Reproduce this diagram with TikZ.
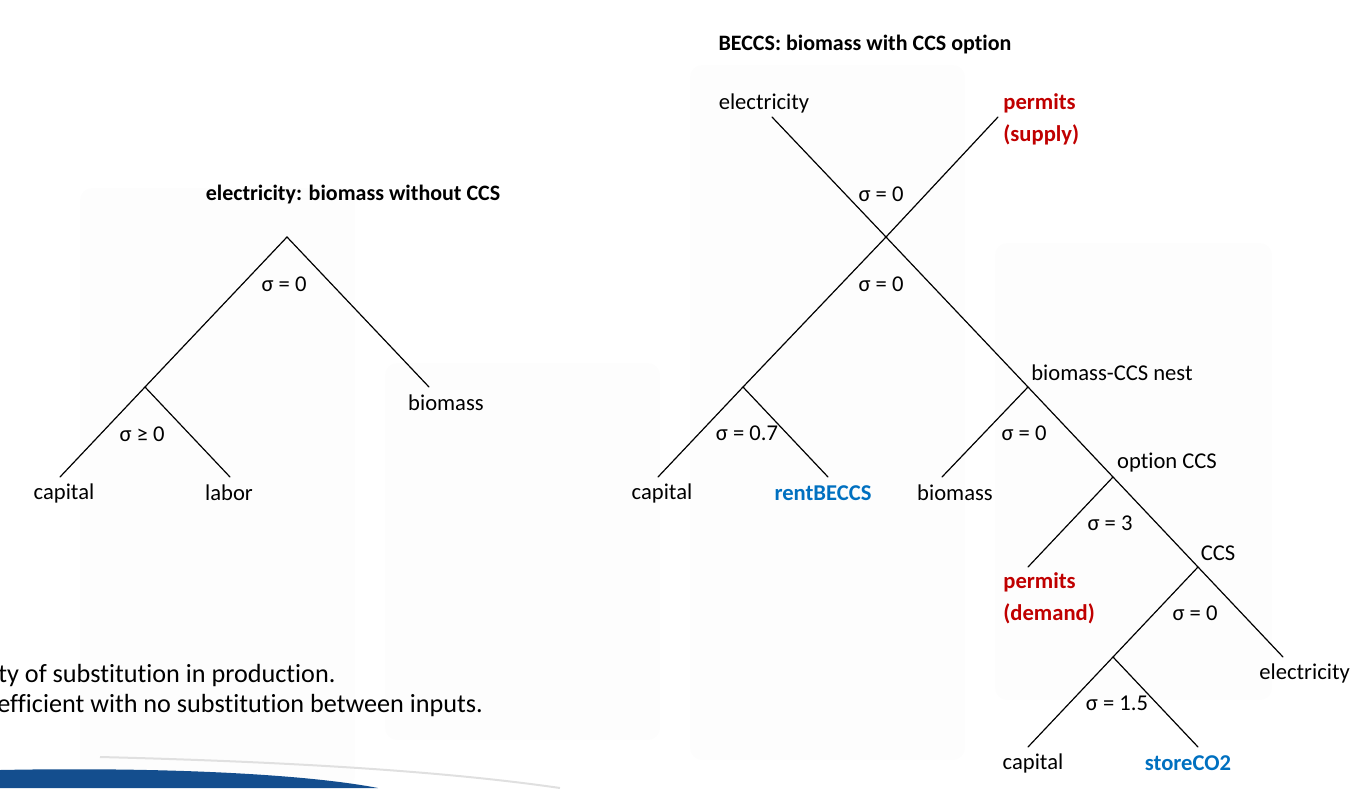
\documentclass[tikz,border=0pt]{standalone}
\usepackage{fontspec}
\setmainfont{Carlito}[Ligatures=NoCommon]
\definecolor{permitred}{RGB}{192,0,0}
\definecolor{rentblue}{RGB}{0,112,192}
\definecolor{barblue}{RGB}{20,78,142}
\pgfdeclarelayer{backpanels}
\pgfsetlayers{backpanels,main}
\tikzset{
    nest/.style={
        draw=black,
        line width=0.6pt,
        line cap=round},
    good/.style={
        font=\fontsize{11.3}{16}\selectfont,
        inner sep=0pt},
    title/.style={
        font=\fontsize{11}{14}\selectfont\bfseries,
        inner sep=0pt},
    permit/.style={
        good,
        text=permitred,
        font=\fontsize{11.3}{16}\selectfont\bfseries,
        align=left,
        anchor=west},
    rent/.style={
        good,
        text=rentblue,
        font=\fontsize{11.3}{16}\selectfont\bfseries},
    note/.style={
        font=\fontsize{13.1}{16}\selectfont,
        inner sep=0pt,
        anchor=west},
    panel/.style={
        fill=black!0.8,
        draw=none,
        rounded corners=6pt}
}

\begin{document}
\begin{tikzpicture}[x=0.5pt, y=-0.5pt]
\useasboundingbox (0,0) rectangle (1350,788);

\begin{pgfonlayer}{backpanels}
\path [panel] (80,188) rectangle (355,788);
\path [panel] (385,363) rectangle (660,740);
\path [panel] (690,65) rectangle (965,760);
\path [panel] (995,243) rectangle (1272,700);
\end{pgfonlayer}

% biomass without CCS
\coordinate (l-top) at (287,237);
\coordinate (l-join) at (145,387);
\coordinate (l-cap-end) at (60,477);
\coordinate (l-lab-end) at (230,477);
\coordinate (l-bio-end) at (429,387);

\node [title] (l-title) at (353,195) {electricity: biomass without CCS};
\node [good] (l-sig-top) at (284,284) {σ = 0};
\node [good] (l-sig-join) at (142,434) {σ ≥ 0};
\node [good] (l-cap) at (64,493) {capital};
\node [good] (l-lab) at (229,493) {labor};
\node [good] (l-bio) at (446,403) {biomass};

\draw [nest] (l-cap-end) -- (l-join) -- (l-top) -- (l-bio-end);
\draw [nest] (l-join) -- (l-lab-end);

% BECCS
\coordinate (r-elec-end) at (772,117);
\coordinate (r-perm-end) at (998,117);
\coordinate (r-top) at (886,237);
\coordinate (r-left) at (743,387);
\coordinate (r-cap-end) at (658,477);
\coordinate (r-rent-end) at (828,477);
\coordinate (r-nest) at (1028,387);
\coordinate (r-bio-end) at (942,477);
\coordinate (r-opt) at (1113,477);
\coordinate (r-pdem-end) at (1028,567);
\coordinate (r-ccs) at (1198,567);
\coordinate (r-elec2-end) at (1283,657);
\coordinate (r-low) at (1113,657);
\coordinate (r-cap2-end) at (1028,747);
\coordinate (r-store-end) at (1198,747);

\node [title] (r-title) at (865,45) {BECCS: biomass with CCS option};
\node [good] (r-elec) at (764,103) {electricity};
\node [permit] (r-psup) at (1003,119) {permits\\(supply)};
\node [good] (r-sig-top) at (881,194) {σ = 0};
\node [good] (r-sig-mid) at (881,284) {σ = 0};
\node [good] (r-sig-left) at (747,433) {σ = 0.7};
\node [good] (r-cap) at (662,493) {capital};
\node [rent] (r-rent) at (823,493) {rentBECCS};
\node [good] (r-bio) at (955,493) {biomass};
\node [good] (r-nest-lab) at (1112,373) {biomass-CCS nest};
\node [good] (r-sig-nest) at (1024,433) {σ = 0};
\node [good] (r-opt-lab) at (1167,463) {option CCS};
\node [good] (r-sig-opt) at (1110,523) {σ = 3};
\node [good] (r-ccs-lab) at (1218,553) {CCS};
\node [permit] (r-pdem) at (1003,598) {permits\\(demand)};
\node [good] (r-sig-ccs) at (1195,613) {σ = 0};
\node [good, anchor=west] (r-elec2) at (1259,673) {electricity};
\node [good] (r-sig-low) at (1117,703) {σ = 1.5};
\node [good] (r-cap2) at (1033,763) {capital};
\node [rent] (r-store) at (1188,763) {storeCO2};

\draw [nest] (r-elec-end) -- (r-top) -- (r-nest) -- (r-opt) -- (r-ccs) -- (r-elec2-end);
\draw [nest] (r-perm-end) -- (r-top) -- (r-left) -- (r-cap-end);
\draw [nest] (r-left) -- (r-rent-end);
\draw [nest] (r-nest) -- (r-bio-end);
\draw [nest] (r-opt) -- (r-pdem-end);
\draw [nest] (r-ccs) -- (r-low) -- (r-cap2-end);
\draw [nest] (r-low) -- (r-store-end);

% slide text and footer
\node [note] (note-a) at (-2,676) {ty of substitution in production.};
\node [note] (note-b) at (-3,706) {efficient with no substitution between inputs.};
\draw [black!12, line width=1pt] (100,757) .. controls (300,762) and (450,772) .. (560,788);
\fill [barblue] (0,770) .. controls (150,767) and (300,773) .. (378,788) -- (0,788) -- cycle;

\end{tikzpicture}
\end{document}
